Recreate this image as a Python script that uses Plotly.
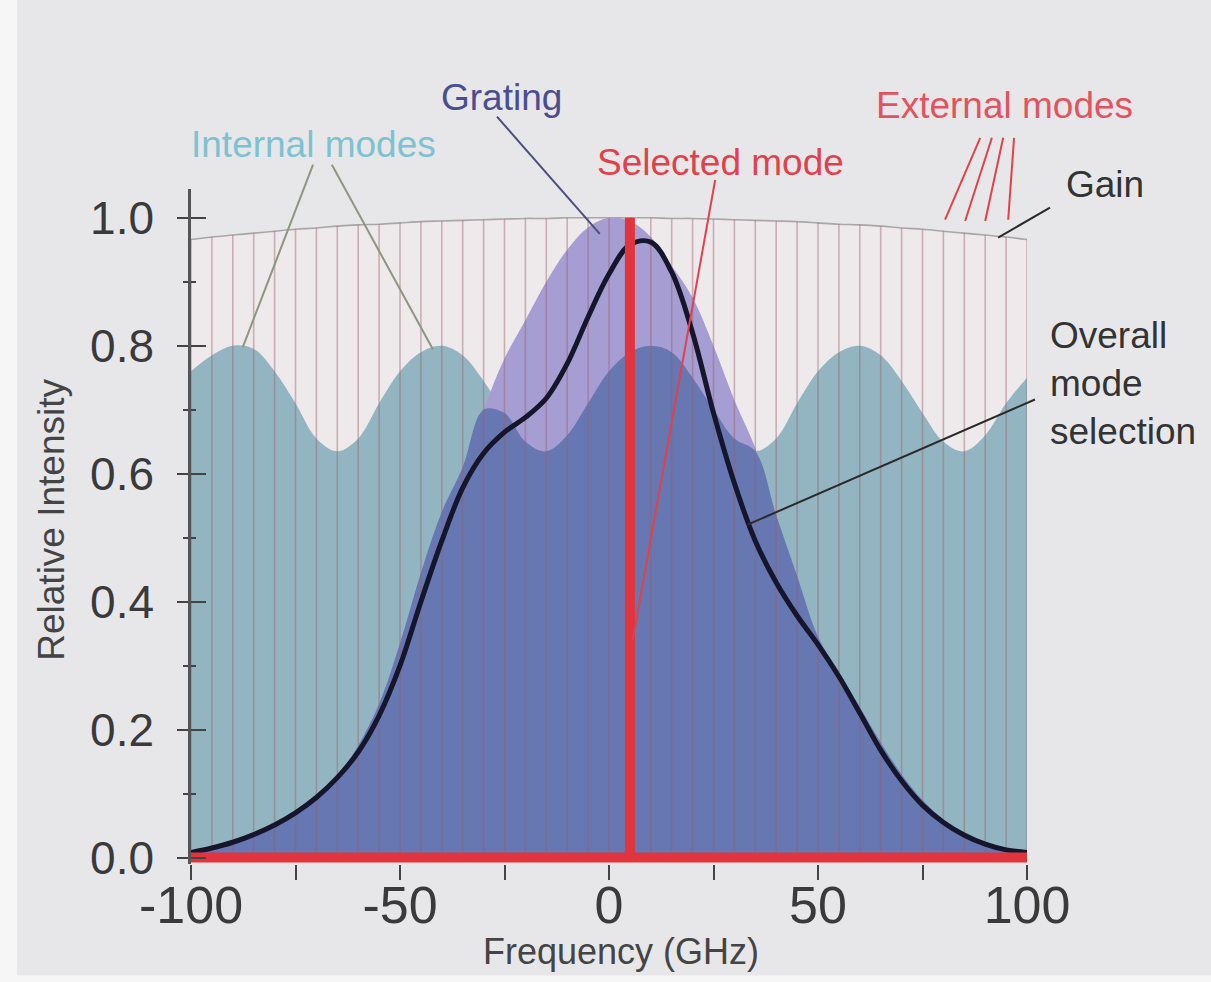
import plotly.graph_objects as go

# ---------------- data ----------------
freq_ghz = [-100, -95, -90, -85, -80, -75, -70, -65, -60, -55, -50, -45, -40, -35, -30,
            -25, -20, -15, -10, -5, 0, 5, 10, 15, 20, 25, 30, 35, 40, 45, 50, 55, 60,
            65, 70, 75, 80, 85, 90, 95, 100]

gain = [0.966, 0.970, 0.973, 0.976, 0.979, 0.982, 0.984, 0.987, 0.989, 0.990, 0.992,
        0.994, 0.995, 0.996, 0.997, 0.998, 0.999, 0.999, 1.000, 1.000, 1.000, 1.000,
        1.000, 0.999, 0.999, 0.998, 0.997, 0.996, 0.995, 0.994, 0.992, 0.990, 0.989,
        0.987, 0.984, 0.982, 0.979, 0.976, 0.973, 0.970, 0.966]

internal_modes = [0.760, 0.785, 0.800, 0.795, 0.760, 0.710, 0.655, 0.635, 0.655, 0.710,
                  0.760, 0.790, 0.800, 0.785, 0.745, 0.695, 0.650, 0.635, 0.660, 0.710,
                  0.760, 0.790, 0.800, 0.790, 0.750, 0.700, 0.655, 0.635, 0.655, 0.710,
                  0.760, 0.790, 0.800, 0.785, 0.745, 0.695, 0.650, 0.635, 0.660, 0.710,
                  0.750]

grating = [0.010, 0.014, 0.022, 0.032, 0.048, 0.066, 0.090, 0.125, 0.175, 0.240, 0.335,
           0.445, 0.540, 0.610, 0.700, 0.780, 0.840, 0.900, 0.950, 0.985, 1.000, 0.995,
           0.970, 0.925, 0.875, 0.800, 0.715, 0.640, 0.535, 0.440, 0.345, 0.290, 0.235,
           0.180, 0.130, 0.090, 0.060, 0.040, 0.025, 0.015, 0.010]

overall = [0.008, 0.015, 0.024, 0.036, 0.051, 0.070, 0.094, 0.125, 0.165, 0.222, 0.300,
           0.400, 0.495, 0.578, 0.632, 0.665, 0.688, 0.718, 0.772, 0.845, 0.912, 0.958,
           0.962, 0.915, 0.820, 0.695, 0.585, 0.495, 0.430, 0.378, 0.333, 0.283, 0.226,
           0.168, 0.120, 0.082, 0.055, 0.035, 0.021, 0.012, 0.008]

selected_mode_ghz = 5
selected_mode_height = 1.0

x_tick_vals = [-100, -50, 0, 50, 100]
x_tick_text = ["-100", "-50", "0", "50", "100"]
y_tick_vals = [0.0, 0.2, 0.4, 0.6, 0.8, 1.0]
y_tick_text = ["0.0", "0.2", "0.4", "0.6", "0.8", "1.0"]

X_RANGE = [-100, 100]
Y_RANGE = [-0.01, 1.045]

# ---------------- derived ----------------
overlap = [min(g, m) for g, m in zip(grating, internal_modes)]
stripe_x, stripe_y = [], []
for f, g in zip(freq_ghz, gain):
    stripe_x += [f, f, None]
    stripe_y += [0, g, None]


def px(x):  # data x -> paper x (so marks may sit outside the plot area)
    return (x - X_RANGE[0]) / (X_RANGE[1] - X_RANGE[0])


def py(y):  # data y -> paper y
    return (y - Y_RANGE[0]) / (Y_RANGE[1] - Y_RANGE[0])


FONT = "Liberation Sans, Arial, Helvetica, sans-serif"
BG = "#e7e7e9"

fig = go.Figure()

fig.add_trace(go.Scatter(x=freq_ghz, y=gain, mode="lines", fill="tozeroy",
                         fillcolor="#eee9ea", line=dict(color="#aaa6a8", width=1.6),
                         line_shape="spline", hoverinfo="skip"))
fig.add_trace(go.Scatter(x=freq_ghz, y=internal_modes, mode="lines", fill="tozeroy",
                         fillcolor="#93b5c1", line=dict(color="#93b5c1", width=0),
                         line_shape="spline", hoverinfo="skip"))
fig.add_trace(go.Scatter(x=freq_ghz, y=grating, mode="lines", fill="tozeroy",
                         fillcolor="#a69dd2", line=dict(color="#a69dd2", width=0),
                         line_shape="spline", hoverinfo="skip"))
fig.add_trace(go.Scatter(x=freq_ghz, y=overlap, mode="lines", fill="tozeroy",
                         fillcolor="#6677b2", line=dict(color="#6677b2", width=0),
                         line_shape="spline", hoverinfo="skip"))
fig.add_trace(go.Scatter(x=stripe_x, y=stripe_y, mode="lines",
                         line=dict(color="rgba(150,95,105,0.42)", width=1.6),
                         hoverinfo="skip"))
fig.add_trace(go.Scatter(x=freq_ghz, y=overall, mode="lines",
                         line=dict(color="#15152c", width=5), line_shape="spline",
                         hoverinfo="skip"))
fig.add_trace(go.Scatter(x=[freq_ghz[0], freq_ghz[-1]], y=[0, 0], mode="lines",
                         line=dict(color="#e2343d", width=10), hoverinfo="skip"))
fig.add_trace(go.Scatter(x=[selected_mode_ghz, selected_mode_ghz], y=[0, selected_mode_height],
                         mode="lines", line=dict(color="#e2343d", width=10), hoverinfo="skip"))

# leader lines (data coords -> paper coords so they are not clipped)
leaders = [
    ((-70.8, 1.083), (-87.6, 0.798), "#8c9682"),
    ((-66.3, 1.083), (-42.1, 0.794), "#8c9682"),
    ((-26.8, 1.158), (-2.2, 0.975), "#4b4e7e"),
    ((25.4, 1.059), (5.7, 0.341), "#e2404a"),
    ((88.8, 1.125), (80.4, 0.997), "#e2404a"),
    ((91.6, 1.125), (85.2, 0.995), "#e2404a"),
    ((94.3, 1.125), (90.0, 0.995), "#e2404a"),
    ((96.9, 1.125), (95.5, 0.997), "#e2404a"),
    ((105.5, 1.016), (93.1, 0.969), "#2a2a2a"),
    ((101.9, 0.716), (33.0, 0.520), "#2a2a2a"),
]
shapes = [
    dict(type="rect", xref="paper", yref="paper", layer="below",
         x0=(17 - 191) / 836, x1=(1215 - 191) / 836,
         y0=(864.4 - 976) / 675.2, y1=(864.4 + 5) / 675.2,
         fillcolor=BG, line=dict(width=0)),
]
for (x0, y0), (x1, y1), c in leaders:
    shapes.append(dict(type="line", xref="paper", yref="paper",
                       x0=px(x0), y0=py(y0), x1=px(x1), y1=py(y1),
                       line=dict(color=c, width=2), layer="above"))

texts = [
    ("Grating", -25.6, 1.1875, "#4b4e8e", "center"),
    ("Internal modes", -70.8, 1.114, "#7cc2d0", "center"),
    ("Selected mode", 26.6, 1.086, "#e2404a", "center"),
    ("External modes", 94.7, 1.175, "#e2535f", "center"),
    ("Gain", 118.7, 1.052, "#333333", "center"),
    ("Overall<br>mode<br>selection", 105.0, 0.741, "#333333", "left"),
]
annotations = []
for t, x, y, c, anc in texts:
    annotations.append(dict(text=t, x=px(x), y=py(y), xref="paper", yref="paper",
                            showarrow=False, xanchor=anc, yanchor="middle", align="left",
                            font=dict(family=FONT, size=37, color=c)))
annotations.append(dict(text="Frequency (GHz)", x=px(2.9), y=(864.4 - 952) / 675.2,
                        xref="paper", yref="paper", showarrow=False, xanchor="center",
                        yanchor="middle", font=dict(family=FONT, size=36, color="#444444")))
annotations.append(dict(text="Relative Intensity", x=(52 - 191) / 836, y=0.51,
                        xref="paper", yref="paper", showarrow=False, textangle=-90,
                        xanchor="center", yanchor="middle",
                        font=dict(family=FONT, size=37, color="#444444")))

fig.update_layout(
    width=1211, height=982,
    margin=dict(l=191, r=184, t=189, b=118),
    paper_bgcolor="#f6f6f7", plot_bgcolor="rgba(0,0,0,0)",
    showlegend=False,
    shapes=shapes,
    annotations=annotations,
    xaxis=dict(range=X_RANGE, showgrid=False, zeroline=False, showline=False,
               tickmode="array", tickvals=x_tick_vals, ticktext=x_tick_text,
               ticks="outside", ticklen=15, tickwidth=2, tickcolor="#444444",
               minor=dict(dtick=25, ticks="outside", ticklen=15, tickwidth=2,
                          tickcolor="#444444"),
               ticklabelstandoff=-19,
               tickfont=dict(family=FONT, size=52, color="#3a3a3a")),
    yaxis=dict(range=Y_RANGE, showgrid=False, zeroline=False, showline=True,
               linecolor="#555555", linewidth=2.5,
               tickmode="array", tickvals=y_tick_vals, ticktext=y_tick_text,
               ticks="outside", ticklen=11, tickwidth=2, tickcolor="#444444",
               minor=dict(dtick=0.1, ticks="outside", ticklen=5, tickwidth=2,
                          tickcolor="#444444"),
               ticklabelstandoff=14,
               tickfont=dict(family=FONT, size=46, color="#3a3a3a")),
    yaxis2=dict(range=Y_RANGE, overlaying="y", side="left", showgrid=False,
                zeroline=False, showline=False, showticklabels=False,
                tickmode="array", tickvals=y_tick_vals,
                ticks="inside", ticklen=15, tickwidth=2, tickcolor="#444444",
                minor=dict(dtick=0.1, ticks="inside", ticklen=5, tickwidth=2,
                           tickcolor="#444444")),
)
fig.add_trace(go.Scatter(x=[None], y=[None], yaxis="y2", hoverinfo="skip"))

fig.write_html("out.html")
